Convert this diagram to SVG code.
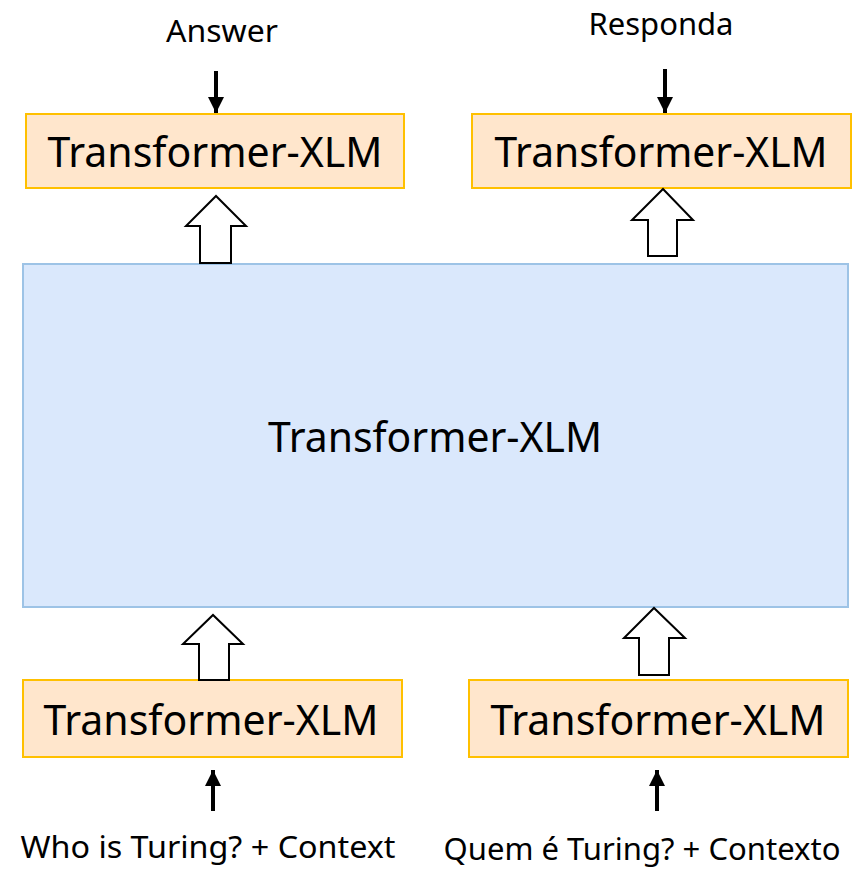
<svg xmlns="http://www.w3.org/2000/svg" width="861" height="869" viewBox="0 0 861 869">
  <style>
    .small { fill: #FFE6CC; stroke: #FFC000; stroke-width: 2; }
    .big { fill: #DAE8FC; stroke: #9DC3E6; stroke-width: 2; }
    .lbl { font-family: "Noto Sans", "Open Sans", sans-serif; fill: #000; text-anchor: middle; }
    .box { font-size: 41px; }
    .io { font-size: 31px; }
    .hollow { fill: #fff; stroke: #000; stroke-width: 2; stroke-linejoin: miter; }
    .solid { stroke: #000; stroke-width: 4; fill: none; }
  </style>
  <defs>
    <marker id="ah" viewBox="0 0 10 10" refX="10" refY="5" markerWidth="4" markerHeight="4" orient="auto" markerUnits="strokeWidth">
      <path d="M0,0 L10,5 L0,10 z" fill="#000"/>
    </marker>
  </defs>
  <rect width="861" height="869" fill="#fff"/>

  <g id="big">
    <rect class="big" x="23" y="264" width="825" height="343"/>
    <text class="lbl box" x="435" y="452" textLength="334" lengthAdjust="spacingAndGlyphs">Transformer-XLM</text>
  </g>
  <g id="top-left">
    <rect class="small" x="26" y="114" width="378" height="74"/>
    <text class="lbl box" x="215" y="167" textLength="335" lengthAdjust="spacingAndGlyphs">Transformer-XLM</text>
  </g>
  <g id="top-right">
    <rect class="small" x="472" y="114" width="379" height="74"/>
    <text class="lbl box" x="661" y="167" textLength="333" lengthAdjust="spacingAndGlyphs">Transformer-XLM</text>
  </g>
  <g id="bottom-left">
    <rect class="small" x="23" y="680" width="379" height="77"/>
    <text class="lbl box" x="211" y="735" textLength="335" lengthAdjust="spacingAndGlyphs">Transformer-XLM</text>
  </g>
  <g id="bottom-right">
    <rect class="small" x="469" y="680" width="379" height="77"/>
    <text class="lbl box" x="658" y="735" textLength="335" lengthAdjust="spacingAndGlyphs">Transformer-XLM</text>
  </g>

  <g id="labels">
    <text class="lbl io" x="222" y="42" textLength="112" lengthAdjust="spacingAndGlyphs">Answer</text>
    <text class="lbl io" x="661" y="35" textLength="145" lengthAdjust="spacingAndGlyphs">Responda</text>
    <text class="lbl io" x="208" y="858" textLength="375" lengthAdjust="spacingAndGlyphs">Who is Turing? + Context</text>
    <text class="lbl io" x="642" y="860" textLength="397" lengthAdjust="spacingAndGlyphs">Quem é Turing? + Contexto</text>
  </g>

  <g id="connectors">
    <!-- hollow block arrows -->
    <path class="hollow" d="M200,263 L200,226 L186,226 L216,196 L246,226 L231,226 L231,263 Z"/>
    <path class="hollow" d="M648,256 L648,220 L632,220 L663,189 L693,220 L677,220 L677,256 Z"/>
    <path class="hollow" d="M199,680 L199,644 L183,644 L213,615 L243,644 L229,644 L229,680 Z"/>
    <path class="hollow" d="M639,675 L639,638 L624,638 L654,608 L685,638 L669,638 L669,675 Z"/>
    <!-- solid arrows -->
    <line class="solid" x1="216" y1="71" x2="216" y2="113" marker-end="url(#ah)"/>
    <line class="solid" x1="665" y1="69" x2="665" y2="113" marker-end="url(#ah)"/>
    <line class="solid" x1="213" y1="811" x2="213" y2="770" marker-end="url(#ah)"/>
    <line class="solid" x1="657" y1="811" x2="657" y2="770" marker-end="url(#ah)"/>
  </g>
</svg>
